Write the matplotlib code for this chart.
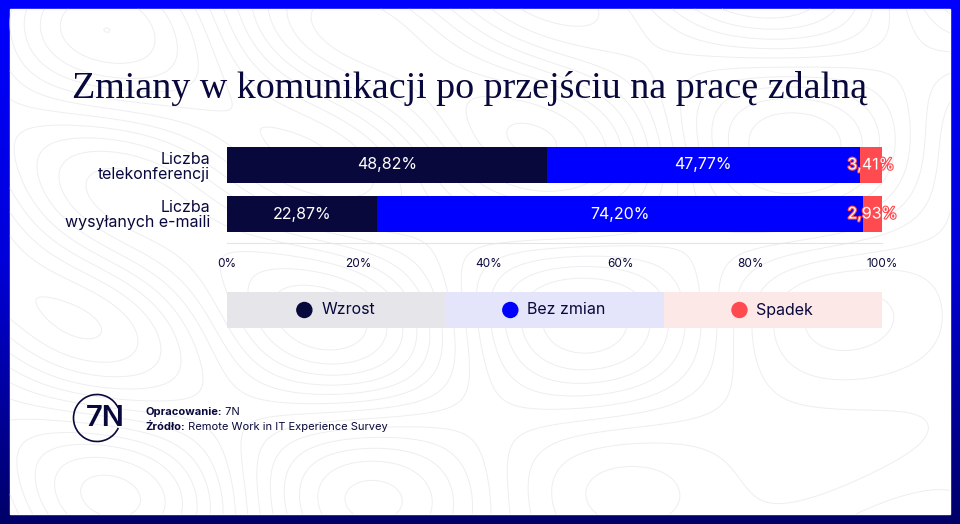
import numpy as np
import matplotlib
matplotlib.use("Agg")
import matplotlib.pyplot as plt
import matplotlib.patheffects as pe
from matplotlib.patches import Rectangle, Circle, Arc

# dane
categories = ["Liczba\ntelekonferencji", "Liczba\nwysyłanych e-maili"]
series_names = ["Wzrost", "Bez zmian", "Spadek"]
wzrost = [48.82, 22.87]
bez_zmian = [47.77, 74.20]
spadek = [3.41, 2.93]
ticks = [0, 20, 40, 60, 80, 100]

title = "Zmiany w komunikacji po przejściu na pracę zdalną"
navy = "#08083c"
colors = [navy, "#0000ff", "#ff4a50"]
legend_bg = ["#e6e6ea", "#e4e4fb", "#fde8e8"]
sans = "Inter"

W, H = 960, 524
fig = plt.figure(figsize=(9.6, 5.24), dpi=100)

def fx(px):
    return px / W

def fy(py):
    return 1 - py / H

# tlo: gradientowa ramka + biale pole
bg = fig.add_axes([0, 0, 1, 1], zorder=0)
grad = np.linspace(0, 1, 256).reshape(-1, 1)
cmap = matplotlib.colors.LinearSegmentedColormap.from_list("b", ["#0000ff", "#0000d8", "#000068"])
bg.imshow(grad, aspect="auto", cmap=cmap, extent=[0, W, H, 0])
bg.add_patch(Rectangle((10, 9), 940, 505, color="white"))
# delikatne poziomice w tle (dekoracja)
gx, gy = np.meshgrid(np.linspace(10, 950, 400), np.linspace(9, 514, 220))
field = (np.sin(gx / 70.0) * np.cos(gy / 55.0) + 0.8 * np.sin((gx + gy) / 120.0)
         + 0.6 * np.cos((gx - 2 * gy) / 90.0))
bg.contour(gx, gy, field, levels=14, colors="#eeeef1", linewidths=0.7,
           negative_linestyles="solid")
bg.set_xlim(0, W)
bg.set_ylim(H, 0)
bg.axis("off")

# tytul
fig.text(fx(72), fy(88), title, fontsize=27.4, family="Liberation Serif",
         color=navy, va="center", ha="left")

# wykres
ax = fig.add_axes([fx(227), fy(243), fx(882) - fx(227), (243 - 140) / H], zorder=2)
ax.patch.set_alpha(0)
y = np.arange(len(categories))
left = np.zeros(len(categories))
for vals, col in zip([wzrost, bez_zmian, spadek], colors):
    ax.barh(y, vals, left=left, height=0.735, color=col)
    for i, v in enumerate(vals):
        t = ax.text(left[i] + v / 2, y[i], f"{v:.2f}%".replace(".", ","), ha="center",
                    va="center", color="white", fontsize=11.5, family=sans)
        if col == colors[2]:
            t.set_path_effects([pe.withStroke(linewidth=1.6, foreground=col)])
    left += np.array(vals)

ax.set_xlim(0, 100)
ax.set_ylim(1 + 29 / 49, -25 / 49)
ax.set_yticks(y)
ax.set_yticklabels(categories, fontsize=11.5, family=sans, color=navy, linespacing=1.0,
                   ha="right")
ax.tick_params(axis="y", length=0, pad=12)
ax.set_xticks(ticks)
ax.set_xticklabels([f"{t}%" for t in ticks], fontsize=8.5, family=sans, color=navy)
ax.tick_params(axis="x", length=0, pad=11)
for s in ["top", "right", "left"]:
    ax.spines[s].set_visible(False)
ax.spines["bottom"].set_color("#e4e4e8")
ax.spines["bottom"].set_linewidth(0.8)

# legenda
lax = fig.add_axes([fx(227), fy(328), fx(882) - fx(227), 36 / H], zorder=2)
lax.set_xlim(0, 655)
lax.set_ylim(0, 36)
lax.axis("off")
seg = 655 / 3
renderer = fig.canvas.get_renderer()
for i, (name, col, bgc) in enumerate(zip(series_names, colors, legend_bg)):
    lax.add_patch(Rectangle((i * seg, 0), seg, 36, color=bgc, lw=0))
    t = lax.text(0, 18, name, fontsize=11.5, family=sans, color=navy, va="center", ha="left")
    tw = t.get_window_extent(renderer=renderer).width
    group = 14 + 10 + tw
    x0 = i * seg + seg / 2 - group / 2
    lax.add_patch(Circle((x0 + 7, 18), 7.5, color=col))
    t.set_x(x0 + 24)

# stopka z logo
fax = fig.add_axes([0, 0, 1, 1], zorder=3)
fax.set_xlim(0, W)
fax.set_ylim(H, 0)
fax.axis("off")
fax.add_patch(Arc((97, 418), 47, 47, theta1=25, theta2=335, color=navy, lw=1.2))
fax.text(105, 419, "7N", fontsize=21, fontweight="semibold", family="Inter",
         color=navy, ha="center", va="center")

for yy, bold, normal in [(412, "Opracowanie:", " 7N"),
                         (427, "Źródło:", " Remote Work in IT Experience Survey")]:
    tb = fax.text(145, yy, bold, fontsize=8, fontweight="bold", family=sans,
                  color=navy, va="center", ha="left")
    bw = tb.get_window_extent(renderer=renderer).width
    fax.text(145 + bw, yy, normal, fontsize=8, family=sans, color=navy,
             va="center", ha="left")

fig.savefig("out.png", dpi=100)
